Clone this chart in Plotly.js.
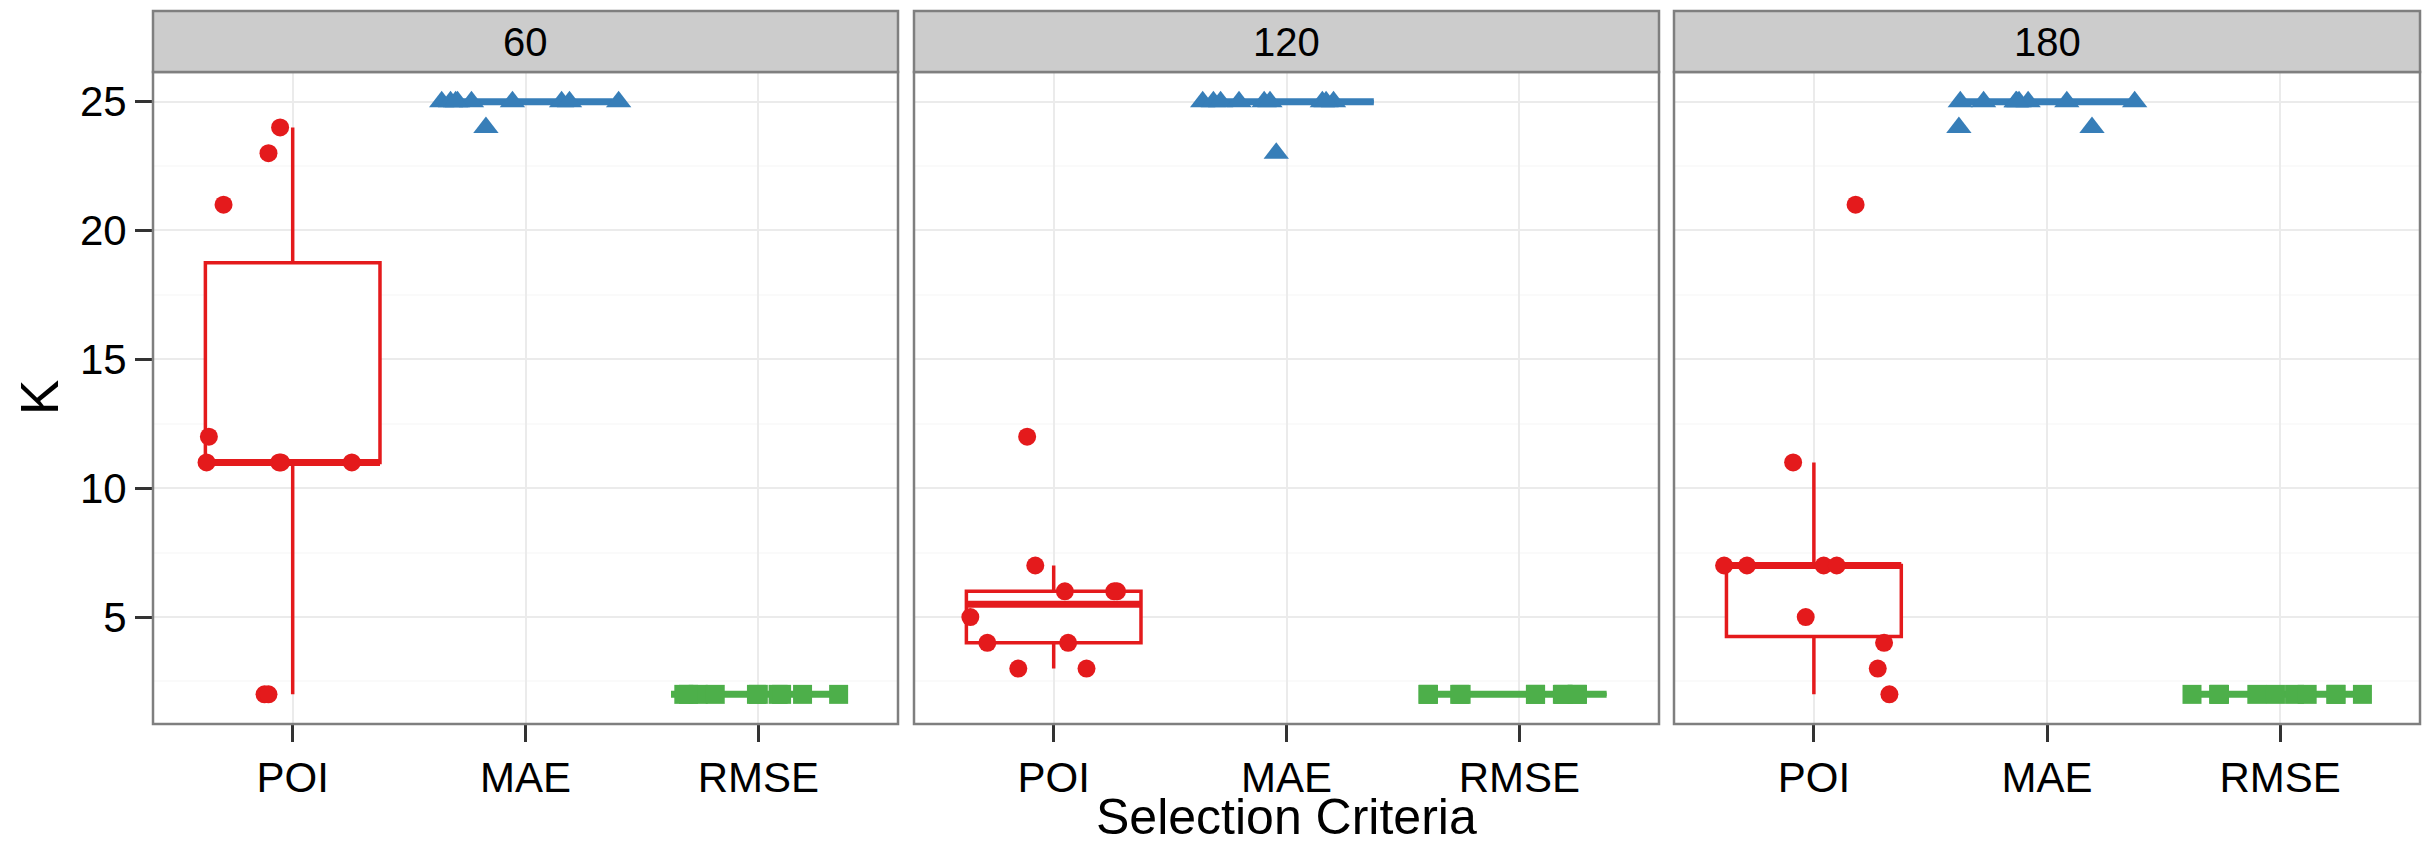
<!DOCTYPE html>
<html><head><meta charset="utf-8">
<script src="https://cdn.plot.ly/plotly-3.0.1.min.js"></script>
<style>html,body{margin:0;padding:0;background:#fff}</style>
</head><body><div id="chart" style="width:2429px;height:846px"></div>
<script>
// ---- data ----
const panels = ['60', '120', '180'];
const categories = ['POI', 'MAE', 'RMSE'];
const yTicks = [5, 10, 15, 20, 25];
const xTitle = 'Selection Criteria';
const yTitle = 'K';

// K values and jittered category positions (1 = POI, 2 = MAE, 3 = RMSE)
const k60_POI  = [24, 23, 21, 12, 11, 11, 11, 11, 2, 2];
const x60_POI  = [0.946, 0.896, 0.703, 0.640, 0.630, 0.942, 1.254, 0.950, 0.879, 0.896];
const k60_MAE  = [25, 25, 25, 25, 25, 25, 25, 25, 25, 24];
const x60_MAE  = [1.64, 1.678, 1.708, 1.768, 1.944, 2.155, 2.189, 2.40, 1.70, 1.83];
const k60_RMSE = [2, 2, 2, 2, 2, 2, 2, 2, 2, 2];
const x60_RMSE = [2.68, 2.742, 2.815, 2.992, 3.085, 3.19, 3.345, 2.70, 3.00, 3.10];

const k120_POI  = [12, 7, 6, 6, 6, 5, 4, 4, 3, 3];
const x120_POI  = [0.886, 0.921, 1.048, 1.272, 1.260, 0.642, 0.715, 1.062, 0.848, 1.141];
const k120_MAE  = [25, 25, 25, 25, 25, 25, 25, 25, 25, 23];
const x120_MAE  = [1.64, 1.686, 1.717, 1.796, 1.904, 1.929, 2.154, 2.202, 2.17, 1.956];
const k120_RMSE = [2, 2, 2, 2, 2, 2, 2, 2, 2, 2];
const x120_RMSE = [2.607, 2.744, 3.069, 3.185, 3.247, 2.61, 2.75, 3.07, 3.19, 3.25];

const k180_POI  = [21, 11, 7, 7, 7, 7, 5, 4, 3, 2];
const x180_POI  = [1.179, 0.911, 0.615, 0.713, 1.042, 1.098, 0.965, 1.301, 1.274, 1.324];
const k180_MAE  = [25, 25, 25, 25, 25, 25, 25, 25, 24, 24];
const x180_MAE  = [1.628, 1.728, 1.867, 1.88, 1.919, 2.085, 2.376, 1.87, 1.622, 2.193];
const k180_RMSE = [2, 2, 2, 2, 2, 2, 2, 2, 2, 2];
const x180_RMSE = [2.622, 2.736, 2.90, 2.98, 3.062, 3.116, 3.239, 3.353, 2.74, 3.24];

const groups = [
  [[k60_POI, x60_POI], [k60_MAE, x60_MAE], [k60_RMSE, x60_RMSE]],
  [[k120_POI, x120_POI], [k120_MAE, x120_MAE], [k120_RMSE, x120_RMSE]],
  [[k180_POI, x180_POI], [k180_MAE, x180_MAE], [k180_RMSE, x180_RMSE]]
];

// ---- styles ----
const colors = ['#E41A1C', '#377EB8', '#4DAF4A'];
const symbols = ['circle', 'triangle-up', 'square'];
const sizes = [18, 22, 19];
const FONT = 'Liberation Sans, Arial, Helvetica, sans-serif';
const BOXW = 0.75;

function q7(sorted, p) {
  const h = (sorted.length - 1) * p;
  const lo = Math.floor(h), hi = Math.ceil(h);
  return sorted[lo] + (h - lo) * (sorted[hi] - sorted[lo]);
}
function stats(vals) {
  const s = vals.slice().sort((a, b) => a - b);
  const q1 = q7(s, 0.25), med = q7(s, 0.5), q3 = q7(s, 0.75);
  const iqr = q3 - q1;
  const lf = Math.min(...s.filter(v => v >= q1 - 1.5 * iqr));
  const uf = Math.max(...s.filter(v => v <= q3 + 1.5 * iqr));
  return {q1, med, q3, lf, uf};
}

const boxTraces = [], medTraces = [], ptTraces = [];
groups.forEach((panel, pi) => {
  const xa = pi === 0 ? 'x' : 'x' + (pi + 1);
  const ya = pi === 0 ? 'y' : 'y' + (pi + 1);
  panel.forEach(([k, xs], ci) => {
    const st = stats(k);
    const pos = ci + 1;
    boxTraces.push({
      type: 'box', x: [pos], q1: [st.q1], median: [st.med], q3: [st.q3],
      lowerfence: [st.lf], upperfence: [st.uf], width: BOXW, whiskerwidth: 0,
      boxpoints: false, line: {color: colors[ci], width: 3.5}, fillcolor: '#ffffff',
      xaxis: xa, yaxis: ya, showlegend: false, hoverinfo: 'skip'
    });
    medTraces.push({
      type: 'scatter', mode: 'lines', x: [pos - BOXW / 2, pos + BOXW / 2], y: [st.med, st.med],
      line: {color: colors[ci], width: 7}, xaxis: xa, yaxis: ya, showlegend: false, hoverinfo: 'skip'
    });
    ptTraces.push({
      type: 'scatter', mode: 'markers', x: xs, y: k,
      marker: {color: colors[ci], symbol: symbols[ci], size: sizes[ci], line: {width: 0}},
      xaxis: xa, yaxis: ya, showlegend: false, hoverinfo: 'skip', cliponaxis: false
    });
  });
});

const W = 2429, H = 846;
const L = 153, R = 9, T = 72, B = 122;
const PW = W - L - R, PH = H - T - B;
const px = [[153, 898], [914, 1659], [1674, 2420]];
const stripTop = 11;

const layout = {
  width: W, height: H, margin: {l: L, r: R, t: T, b: B},
  paper_bgcolor: '#ffffff', plot_bgcolor: '#ffffff',
  boxmode: 'overlay', hovermode: false, showlegend: false,
  font: {family: FONT, color: '#000000'},
  shapes: [], annotations: []
};

panels.forEach((lab, pi) => {
  const sfx = pi === 0 ? '' : String(pi + 1);
  const d0 = (px[pi][0] - L) / PW, d1 = (px[pi][1] - L) / PW;
  layout['xaxis' + sfx] = {
    domain: [d0, d1], range: [0.4, 3.6], anchor: 'y' + sfx,
    tickvals: [1, 2, 3], ticktext: categories,
    ticks: 'outside', ticklen: 17, tickwidth: 3, tickcolor: '#333333',
    tickfont: {size: 42, family: FONT, color: '#000000'},
    showgrid: true, gridcolor: '#EBEBEB', gridwidth: 2, zeroline: false, showline: false,
    fixedrange: true
  };
  layout['yaxis' + sfx] = {
    domain: [0, 1], range: [0.85, 26.15], anchor: 'x' + sfx,
    tickvals: yTicks, ticktext: yTicks.map(String),
    ticks: pi === 0 ? 'outside' : '', ticklen: 17, tickwidth: 3, tickcolor: '#333333',
    showticklabels: pi === 0,
    tickfont: {size: 42, family: FONT, color: '#000000'},
    showgrid: true, gridcolor: '#EBEBEB', gridwidth: 2, zeroline: false, showline: false,
    minor: {tickvals: yTicks.map(v => v - 2.5), showgrid: true, gridcolor: '#FAFAFA', gridwidth: 2, ticks: ''},
    fixedrange: true
  };
  // panel border
  layout.shapes.push({
    type: 'rect', xref: 'x' + sfx + ' domain', yref: 'y' + sfx + ' domain',
    x0: 0, x1: 1, y0: 0, y1: 1, line: {color: '#7F7F7F', width: 2.5}, fillcolor: 'rgba(0,0,0,0)', layer: 'above'
  });
  // strip
  layout.shapes.push({
    type: 'rect', xref: 'x' + sfx + ' domain', yref: 'paper',
    x0: 0, x1: 1, y0: 1, y1: 1 + (T - stripTop) / PH,
    line: {color: '#7F7F7F', width: 2.5}, fillcolor: '#CCCCCC', layer: 'above'
  });
  layout.annotations.push({
    text: lab, xref: 'x' + sfx + ' domain', yref: 'paper', x: 0.5,
    y: 1 + (T - stripTop) / 2 / PH, xanchor: 'center', yanchor: 'middle', showarrow: false,
    font: {size: 40, family: FONT, color: '#000000'}
  });
});

// axis titles
layout.annotations.push({
  text: xTitle, xref: 'x2 domain', yref: 'paper', x: 0.5, y: (H - 817 - B) / PH,
  xanchor: 'center', yanchor: 'middle', showarrow: false,
  font: {size: 50, family: FONT, color: '#000000'}
});
layout.annotations.push({
  text: yTitle, xref: 'paper', yref: 'paper', x: (39 - L) / PW, y: 0.5, textangle: -90,
  xanchor: 'center', yanchor: 'middle', showarrow: false,
  font: {size: 53, family: FONT, color: '#000000'}
});

Plotly.newPlot('chart', [...boxTraces, ...medTraces, ...ptTraces], layout, {displayModeBar: false, staticPlot: true});
</script>
</body></html>
